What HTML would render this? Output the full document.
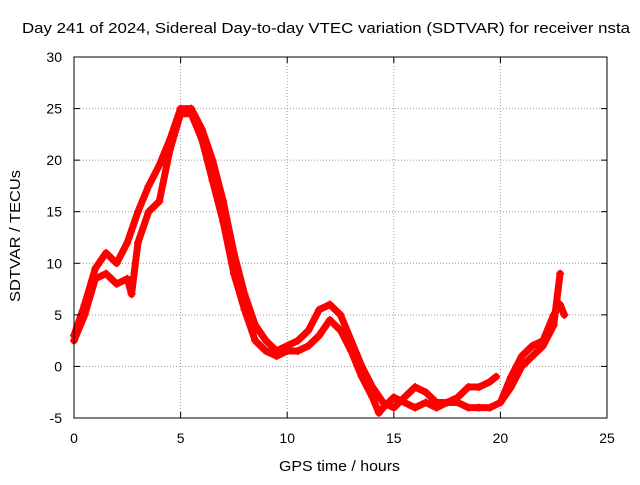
<!DOCTYPE html>
<html><head><meta charset="utf-8"><style>
body{margin:0;background:#fff;}
svg text{font-family:"Liberation Sans",sans-serif;font-size:14px;fill:#000;}
</style></head><body>
<svg width="640" height="480" xmlns="http://www.w3.org/2000/svg">
<rect width="640" height="480" fill="#fff"/>
<g id="grid"></g>
<g id="series"></g>
<rect x="74" y="57" width="533" height="361" fill="none" stroke="#000" stroke-width="1"/>
<g id="ticks"></g>
<text x="22" y="33" textLength="608" lengthAdjust="spacingAndGlyphs" style="font-size:15px">Day 241 of 2024, Sidereal Day-to-day VTEC variation (SDTVAR) for receiver nsta</text>
<text x="279" y="471" textLength="121" lengthAdjust="spacingAndGlyphs" style="font-size:15px">GPS time / hours</text>
<text x="20" y="302" textLength="132" lengthAdjust="spacingAndGlyphs" style="font-size:15px" transform="rotate(-90 20 302)">SDTVAR / TECUs</text>
</svg>
<script>
const xTicks=[0,5,10,15,20,25];
const yTicks=[-5,0,5,10,15,20,25,30];
const trackA_t=[0,0.5,1,1.5,2,2.5,3,3.5,4,4.5,5,5.5,6,6.5,7,7.5,8,8.5,9,9.5,10,10.5,11,11.5,12,12.5,13,13.5,14,14.5,15,15.5,16,16.5,17,17.5,18,18.5,19,19.5,19.8];
const trackA_v=[3,6,9.5,11,10,12,15,17.5,19.5,22,25,25,23,20,16,11,7,4,2.5,1.5,2,2.5,3.5,5.5,6,5,2.5,0,-2,-3.5,-4,-3,-2,-2.5,-3.5,-3.5,-3,-2,-2,-1.5,-1];
const trackB_t=[0,0.5,1,1.5,2,2.5,2.7,3,3.5,4,4.5,5,5.5,6,6.5,7,7.5,8,8.5,9,9.5,10,10.5,11,11.5,12,12.5,13,13.5,14,14.3,14.5,15,15.5,16,16.5,17,17.5,18,18.5,19,19.5,20,20.5,21,21.5,22,22.5,22.8];
const trackB_v=[2.5,5,8.5,9,8,8.5,7,12,15,16,21,24.5,24.5,22,18,14,9,5.5,2.5,1.5,1,1.5,1.5,2,3,4.5,3.5,1.5,-1,-3,-4.5,-4,-3,-3.5,-4,-3.5,-4,-3.5,-3.5,-4,-4,-4,-3.5,-2,0,1,2,4,9];
const trackC_t=[20,20.5,21,21.5,22,22.5,22.8,23];
const trackC_v=[-3.5,-1,1,2,2.5,5,6,5];
const X=t=>74+t*533/25, Y=v=>418-(v+5)*361/35;
const NS='http://www.w3.org/2000/svg';
const grid=document.getElementById('grid'),ticks=document.getElementById('ticks'),ser=document.getElementById('series');
function mk(tag,at,parent){const e=document.createElementNS(NS,tag);for(const k in at)e.setAttribute(k,at[k]);parent.appendChild(e);return e;}
xTicks.forEach(t=>{
 if(t>0&&t<25){const g=mk('line',{x1:X(t),x2:X(t),y1:57,y2:418,stroke:'#999','stroke-dasharray':'1,2'},grid);}
 const a=mk('line',{x1:X(t),x2:X(t),y1:418,y2:412,stroke:'#000'},ticks);
 const b=mk('line',{x1:X(t),x2:X(t),y1:57,y2:63,stroke:'#000'},ticks);
 const l=mk('text',{x:X(t),y:443,'text-anchor':'middle'},ticks);l.textContent=t;
});
yTicks.forEach(v=>{
 if(v>-5&&v<30){const g=mk('line',{x1:74,x2:607,y1:Y(v),y2:Y(v),stroke:'#999','stroke-dasharray':'1,2'},grid);}
 const a=mk('line',{x1:74,x2:80,y1:Y(v),y2:Y(v),stroke:'#000'},ticks);
 const b=mk('line',{x1:601,x2:607,y1:Y(v),y2:Y(v),stroke:'#000'},ticks);
 const l=mk('text',{x:62,y:Y(v)+5,'text-anchor':'end'},ticks);l.textContent=v;
});
[[trackA_t,trackA_v],[trackB_t,trackB_v],[trackC_t,trackC_v]].forEach(([ts,vs])=>{
 const pts=ts.map((t,i)=>X(t)+','+Y(vs[i])).join(' ');
 const p=mk('polyline',{points:pts,fill:'none',stroke:'#f00','stroke-width':7,'stroke-linejoin':'round','stroke-linecap':'round'},ser);
 
 
 ts.forEach((t,i)=>{const x=X(t),y=Y(vs[i]);
  const m=mk('path',{d:`M${x-4},${y}h8M${x},${y-4}v8`,stroke:'#f00','stroke-width':1.5},ser);
  
  });
});
</script>
</body></html>
